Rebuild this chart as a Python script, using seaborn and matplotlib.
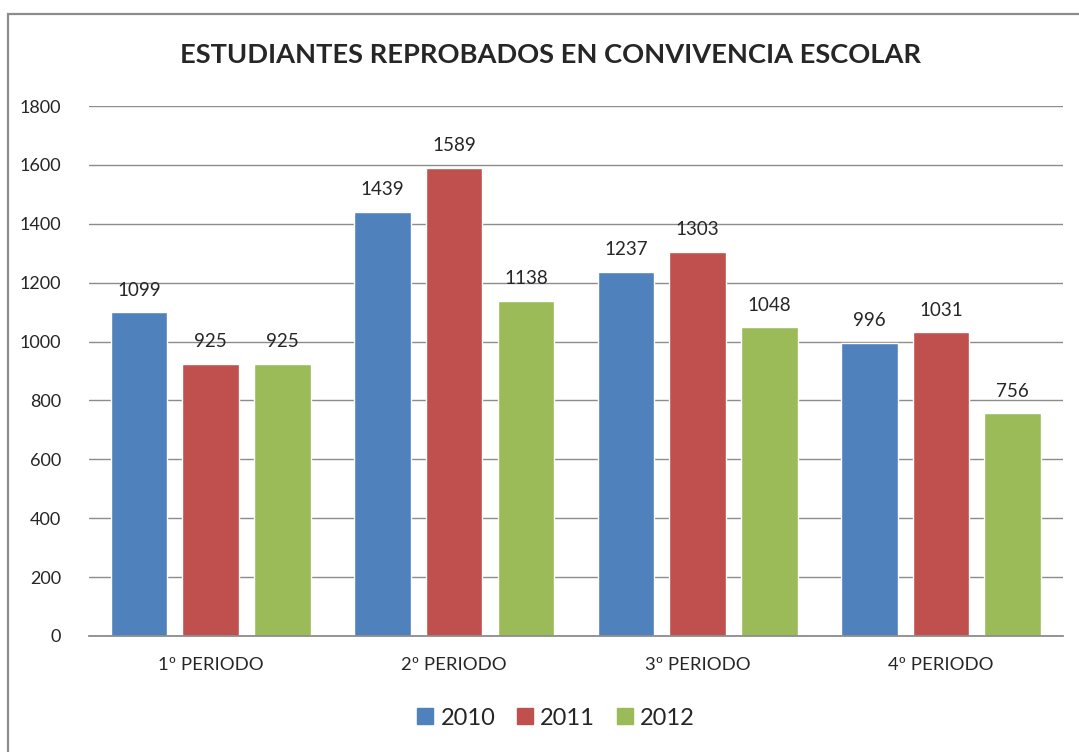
import matplotlib
matplotlib.use("Agg")
import matplotlib.pyplot as plt
import seaborn as sns
import pandas as pd
from matplotlib.patches import Rectangle
from matplotlib.lines import Line2D

periodos = ["1º PERIODO", "2º PERIODO", "3º PERIODO", "4º PERIODO"]
anios = ["2010", "2011", "2012"]
v2010 = [1099, 1439, 1237, 996]
v2011 = [925, 1589, 1303, 1031]
v2012 = [925, 1138, 1048, 756]
colores = ["#4F81BD", "#C0504D", "#9BBB59"]

df = pd.DataFrame({
    "periodo": periodos * 3,
    "anio": [a for a in anios for _ in periodos],
    "valor": v2010 + v2011 + v2012,
})

sns.set_style("white")
plt.rcParams["font.family"] = ["Lato", "DejaVu Sans"]

fig = plt.figure(figsize=(10.79, 7.52), dpi=100)
ax = fig.add_axes([0.0825, 0.1543, 0.9025, 0.7047])

sns.barplot(data=df, x="periodo", y="valor", hue="anio", palette=colores,
            width=0.883, gap=0.21, saturation=1, legend=False, ax=ax)

for c in ax.containers:
    ax.bar_label(c, padding=10, fontsize=13.5)

ax.set_ylim(0, 1800)
ax.set_yticks(range(0, 1801, 200))
ax.yaxis.grid(True, color="#8c8c8c", linewidth=1)
ax.set_axisbelow(True)
for s in ["top", "right", "left"]:
    ax.spines[s].set_visible(False)
ax.spines["bottom"].set_color("#8c8c8c")
ax.spines["bottom"].set_linewidth(1.3)
ax.tick_params(axis="y", length=0, pad=20, labelsize=13)
ax.tick_params(axis="x", length=0, pad=15, labelsize=13.3)
ax.set_xlabel("")
ax.set_ylabel("")

fig.text(0.51, 0.927, "ESTUDIANTES REPROBADOS EN CONVIVENCIA ESCOLAR",
         ha="center", va="center", fontsize=19.6, fontweight="bold")

handles = [Line2D([], [], marker="s", linestyle="", markersize=11, color=c) for c in colores]
fig.legend(handles, anios, loc="center", bbox_to_anchor=(0.515, 0.045), ncol=3,
           frameon=False, fontsize=17, handlelength=0.7, handletextpad=0.3,
           columnspacing=0.9)

fig.patches.append(Rectangle((8 / 1079, -0.2), 1.2, 0.2 + 1 - 14 / 752,
                             transform=fig.transFigure, fill=False,
                             edgecolor="#8c8c8c", linewidth=1.6))

fig.savefig("out.png", dpi=100)
